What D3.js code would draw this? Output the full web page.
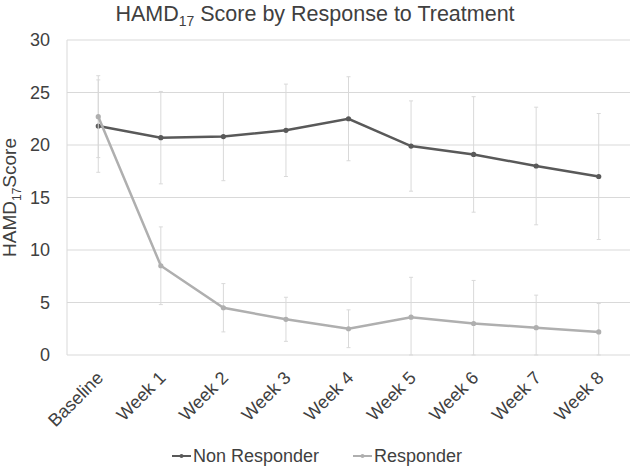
<!DOCTYPE html>
<html>
<head>
<meta charset="utf-8">
<script src="https://cdnjs.cloudflare.com/ajax/libs/d3/7.8.5/d3.min.js"></script>
<style>
body { margin: 0; background: #fff; }
text { font-family: "Liberation Sans", Arial, sans-serif; fill: #404040; }
</style>
</head>
<body>
<div id="chart"></div>
<script>
var weeks = ["Baseline", "Week 1", "Week 2", "Week 3", "Week 4", "Week 5", "Week 6", "Week 7", "Week 8"];
var nonResponder = [21.8, 20.7, 20.8, 21.4, 22.5, 19.9, 19.1, 18.0, 17.0];
var nonResponderErr = [4.4, 4.4, 4.2, 4.4, 4.0, 4.3, 5.5, 5.6, 6.0];
var responder = [22.7, 8.5, 4.5, 3.4, 2.5, 3.6, 3.0, 2.6, 2.2];
var responderErr = [3.9, 3.7, 2.3, 2.1, 1.8, 3.8, 4.1, 3.1, 2.7];
var yTicks = [0, 5, 10, 15, 20, 25, 30];

var width = 632, height = 467;
var margin = {top: 40, right: 2, bottom: 112, left: 67};

var svg = d3.select("#chart").append("svg")
	.attr("width", width)
	.attr("height", height);

var x = d3.scaleBand()
	.domain(weeks)
	.range([margin.left, width - margin.right]);

var y = d3.scaleLinear()
	.domain([0, 30])
	.range([height - margin.bottom, margin.top]);

// gridlines
svg.append("g")
	.selectAll("line")
	.data(yTicks)
	.enter().append("line")
	.attr("x1", margin.left)
	.attr("x2", width - margin.right)
	.attr("y1", function(d){ return y(d); })
	.attr("y2", function(d){ return y(d); })
	.attr("stroke", "#d9d9d9")
	.attr("stroke-width", 1);

svg.append("line")
	.attr("x1", margin.left).attr("x2", margin.left)
	.attr("y1", y(30)).attr("y2", y(0))
	.attr("stroke", "#d9d9d9");

// y tick labels
var y_axis = d3.axisLeft(y).tickValues(yTicks).tickSize(0).tickPadding(17);
svg.append("g")
	.attr("class", "y axis")
	.attr("transform", "translate(" + margin.left + ",0)")
	.call(y_axis)
	.call(function(g){ g.select(".domain").remove(); })
	.selectAll("text")
	.style("font-size", "18px")
	.style("font-family", "Liberation Sans, Arial, sans-serif")
	.attr("fill", "#404040");

// x tick labels
var x_axis = d3.axisBottom(x).tickSize(0).tickPadding(0);
svg.append("g")
	.attr("class", "x axis")
	.attr("transform", "translate(0," + y(0) + ")")
	.call(x_axis)
	.call(function(g){ g.select(".domain").remove(); })
	.selectAll("text")
	.style("font-size", "18px")
	.style("font-family", "Liberation Sans, Arial, sans-serif")
	.attr("fill", "#404040")
	.style("text-anchor", "end")
	.attr("dy", 0)
	.attr("y", 0)
	.attr("transform", "translate(6,24) rotate(-45)");

var cx = function(d, i){ return x(weeks[i]) + x.bandwidth() / 2; };

function drawSeries(vals, errs, color) {
	var g = svg.append("g");
	var top = function(d, i){ return y(Math.min(30, d + errs[i])); };
	var bot = function(d, i){ return y(Math.max(0, d - errs[i])); };
	g.selectAll("line.err")
		.data(vals)
		.enter().append("line")
		.attr("class", "err")
		.attr("x1", cx).attr("x2", cx)
		.attr("y1", top)
		.attr("y2", bot)
		.attr("stroke", "#d9d9d9")
		.attr("stroke-width", 1);
	g.selectAll("line.cap")
		.data(vals.concat(vals))
		.enter().append("line")
		.attr("class", "cap")
		.attr("x1", function(d, i){ return cx(d, i % vals.length) - 2; })
		.attr("x2", function(d, i){ return cx(d, i % vals.length) + 2; })
		.attr("y1", function(d, i){ var k = i % vals.length; return i < vals.length ? top(d, k) : bot(d, k); })
		.attr("y2", function(d, i){ var k = i % vals.length; return i < vals.length ? top(d, k) : bot(d, k); })
		.attr("stroke", "#d9d9d9")
		.attr("stroke-width", 1);
	var line = d3.line()
		.x(cx)
		.y(function(d){ return y(d); });
	g.append("path")
		.datum(vals)
		.attr("d", line)
		.attr("fill", "none")
		.attr("stroke", color)
		.attr("stroke-width", 2.5);
	g.selectAll("circle")
		.data(vals)
		.enter().append("circle")
		.attr("cx", cx)
		.attr("cy", function(d){ return y(d); })
		.attr("r", 2.6)
		.attr("fill", color);
}

drawSeries(nonResponder, nonResponderErr, "#595959");
drawSeries(responder, responderErr, "#afafaf");

// title
var title = svg.append("text")
	.attr("x", 315)
	.attr("y", 21)
	.attr("text-anchor", "middle")
	.style("font-size", "21.5px");
title.append("tspan").text("HAMD");
title.append("tspan").text("17").attr("dy", 5).style("font-size", "14px");
title.append("tspan").text(" Score by Response to Treatment").attr("dy", -5);

// y label
var ylab = svg.append("text")
	.attr("transform", "translate(16," + y(15) + ") rotate(-90)")
	.attr("text-anchor", "middle")
	.style("font-size", "19px");
ylab.append("tspan").text("HAMD");
ylab.append("tspan").text("17").attr("dy", 5).style("font-size", "12px");
ylab.append("tspan").text("Score").attr("dy", -5);

// legend
var legend = [{name: "Non Responder", color: "#595959", x: 172}, {name: "Responder", color: "#afafaf", x: 353}];
var lg = svg.selectAll("g.legend")
	.data(legend)
	.enter().append("g")
	.attr("class", "legend")
	.attr("transform", function(d){ return "translate(" + d.x + ",456)"; });
lg.append("line")
	.attr("x1", 0).attr("x2", 19)
	.attr("stroke", function(d){ return d.color; })
	.attr("stroke-width", 2);
lg.append("circle")
	.attr("cx", 9.5).attr("r", 2)
	.attr("fill", function(d){ return d.color; });
lg.append("text")
	.attr("x", 21)
	.attr("dy", "0.35em")
	.style("font-size", "18px")
	.text(function(d){ return d.name; });
</script>
</body>
</html>
